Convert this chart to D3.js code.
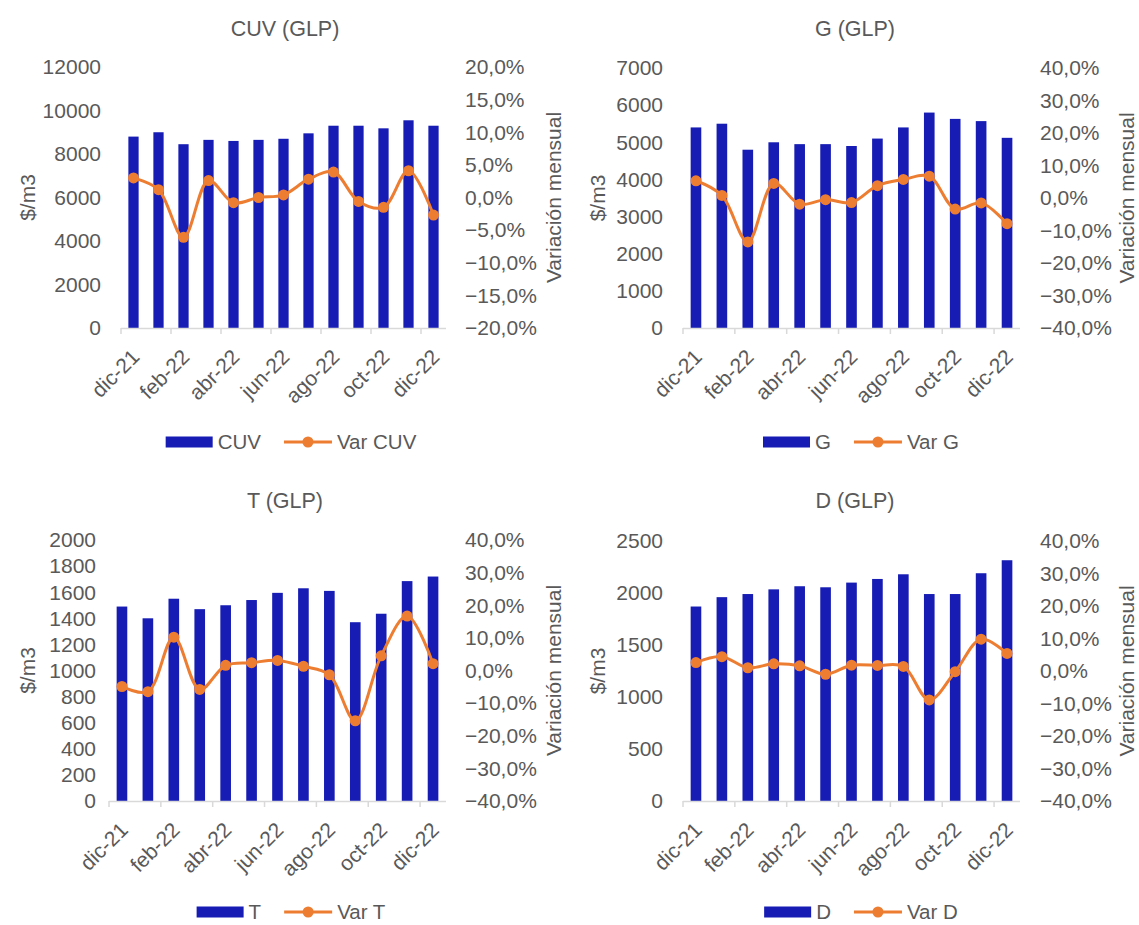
<!DOCTYPE html>
<html>
<head>
<meta charset="utf-8">
<script src="https://cdn.jsdelivr.net/npm/d3@7"></script>
<style>
  body { margin: 0; background: #fff; }
  svg { display: block; font-family: "Liberation Sans", Arial, sans-serif; }
  text { fill: #595959; }
</style>
</head>
<body>
<svg width="1139" height="925"></svg>
<script>
// Data
const months = ["dic-21", "ene-22", "feb-22", "mar-22", "abr-22", "may-22", "jun-22",
  "jul-22", "ago-22", "sep-22", "oct-22", "nov-22", "dic-22"];

const cuv = [8800, 9000, 8450, 8650, 8600, 8650, 8700, 8950, 9300, 9300, 9180, 9550, 9300];
const varCuv = [3.0, 1.2, -6.1, 2.6, -0.8, 0.0, 0.4, 2.8, 3.9, -0.6, -1.5, 4.1, -2.7];

const g = [5400, 5500, 4800, 5000, 4950, 4950, 4900, 5100, 5400, 5800, 5630, 5570, 5120];
const varG = [5.3, 0.8, -13.5, 4.5, -1.9, -0.5, -1.4, 3.8, 5.7, 6.7, -3.4, -1.5, -7.9];

const t = [1490, 1400, 1550, 1470, 1500, 1540, 1595, 1630, 1610, 1370, 1435, 1685, 1720];
const varT = [-4.9, -6.5, 10.2, -5.8, 1.6, 2.4, 3.1, 1.3, -1.3, -15.4, 4.5, 16.7, 2.1];

const dist = [1870, 1960, 1990, 2035, 2065, 2055, 2100, 2135, 2180, 1990, 1990, 2190, 2315];
const varD = [2.6, 4.4, 1.0, 2.2, 1.6, -1.0, 1.8, 1.7, 1.4, -8.9, -0.2, 9.8, 5.4];

const BLUE = "#161cb4", ORANGE = "#ed7d31";
const FS = "21px";

const locale = d3.formatLocale({ decimal: ",", thousands: ".", grouping: [3], currency: ["$", ""] });
const pct = v => locale.format(".1f")(v) + "%";

const svg = d3.select("svg");

// panel layout
const panels = [
  { title: "CUV (GLP)", name: "CUV", bars: cuv, line: varCuv, cx: 285,
    x0: 121, x1: 446, yTop: 67, yBot: 328, lMax: 12000, lStep: 2000, rMax: 20, rStep: 5,
    lLab: 101, rLab: 465, lTitle: 28, rTitle: 554, titleY: 28, legY: 442 },
  { title: "G (GLP)", name: "G", bars: g, line: varG, cx: 855,
    x0: 683, x1: 1020, yTop: 68, yBot: 328, lMax: 7000, lStep: 1000, rMax: 40, rStep: 10,
    lLab: 663, rLab: 1040, lTitle: 598, rTitle: 1127, titleY: 28, legY: 442 },
  { title: "T (GLP)", name: "T", bars: t, line: varT, cx: 285,
    x0: 109, x1: 446, yTop: 540, yBot: 801, lMax: 2000, lStep: 200, rMax: 40, rStep: 10,
    lLab: 96, rLab: 465, lTitle: 28, rTitle: 554, titleY: 500, legY: 912 },
  { title: "D (GLP)", name: "D", bars: dist, line: varD, cx: 855,
    x0: 683, x1: 1020, yTop: 541, yBot: 801, lMax: 2500, lStep: 500, rMax: 40, rStep: 10,
    lLab: 663, rLab: 1040, lTitle: 598, rTitle: 1127, titleY: 500, legY: 912 }
];

panels.forEach(drawPanel);

function drawPanel(p) {
  const gp = svg.append("g");
  const x = d3.scaleBand().domain(months).range([p.x0, p.x1]).padding(0);
  const yL = d3.scaleLinear().domain([0, p.lMax]).range([p.yBot, p.yTop]);
  const yR = d3.scaleLinear().domain([-p.rMax, p.rMax]).range([p.yBot, p.yTop]);
  const bw = x.bandwidth() * 0.41;
  const cxOf = i => x(months[i]) + x.bandwidth() / 2;

  // title
  gp.append("text").attr("x", p.cx).attr("y", p.titleY).attr("dy", "0.35em")
    .attr("text-anchor", "middle").style("font-size", "21.5px").text(p.title);

  // left ticks
  gp.selectAll(".lt").data(d3.range(0, p.lMax + 1, p.lStep)).join("text")
    .attr("x", p.lLab).attr("y", d => yL(d)).attr("dy", "0.35em")
    .attr("text-anchor", "end").style("font-size", FS).text(d => d);

  // right ticks
  gp.selectAll(".rt").data(d3.range(-p.rMax, p.rMax + 0.001, p.rStep)).join("text")
    .attr("x", p.rLab).attr("y", d => yR(d)).attr("dy", "0.35em")
    .style("font-size", FS).text(d => pct(d));

  // axis titles
  const mid = (p.yTop + p.yBot) / 2;
  gp.append("text").attr("transform", `translate(${p.lTitle},${mid}) rotate(-90)`)
    .attr("dy", "0.35em").attr("text-anchor", "middle").style("font-size", FS).text("$/m3");
  gp.append("text").attr("transform", `translate(${p.rTitle},${mid}) rotate(-90)`)
    .attr("dy", "0.35em").attr("text-anchor", "middle").style("font-size", FS).text("Variación mensual");

  // bars
  gp.selectAll(".bar").data(p.bars).join("rect")
    .attr("x", (d, i) => cxOf(i) - bw / 2)
    .attr("y", d => yL(d)).attr("width", bw).attr("height", d => p.yBot - yL(d))
    .attr("fill", BLUE);

  // x axis
  gp.append("line").attr("x1", p.x0).attr("x2", p.x1).attr("y1", p.yBot + 0.5).attr("y2", p.yBot + 0.5)
    .attr("stroke", "#d9d9d9").attr("stroke-width", 1.5);
  const tickCats = months.filter((m, i) => i % 2 === 0);
  gp.selectAll(".tk").data(tickCats).join("line")
    .attr("x1", d => x(d)).attr("x2", d => x(d)).attr("y1", p.yBot).attr("y2", p.yBot + 6)
    .attr("stroke", "#d9d9d9").attr("stroke-width", 1.5);
  gp.selectAll(".xl").data(tickCats).join("text")
    .attr("transform", d => `translate(${x(d) + x.bandwidth() / 2 + 2},${p.yBot + 25}) rotate(-45)`)
    .attr("dy", "0.35em").attr("text-anchor", "end").style("font-size", FS).text(d => d);

  // line
  const line = d3.line().x((d, i) => cxOf(i)).y(d => yR(d))
    .curve(d3.curveCatmullRom.alpha(0.5));
  gp.append("path").datum(p.line).attr("d", line).attr("fill", "none")
    .attr("stroke", ORANGE).attr("stroke-width", 3);
  gp.selectAll(".pt").data(p.line).join("circle")
    .attr("cx", (d, i) => cxOf(i)).attr("cy", d => yR(d))
    .attr("r", 5.5).attr("fill", ORANGE);

  // legend
  const leg = gp.append("g");
  const l1 = leg.append("text").attr("y", p.legY).attr("dy", "0.35em").style("font-size", "20.5px").text(p.name);
  const l2 = leg.append("text").attr("y", p.legY).attr("dy", "0.35em").style("font-size", "20.5px").text("Var " + p.name);
  const w1 = l1.node().getComputedTextLength(), w2 = l2.node().getComputedTextLength();
  const total = 47 + 5 + w1 + 23 + 48 + 5 + w2;
  let lx = p.cx + 6 - total / 2;
  leg.append("rect").attr("x", lx).attr("y", p.legY - 5.5).attr("width", 47).attr("height", 11).attr("fill", BLUE);
  l1.attr("x", lx + 52);
  lx += 52 + w1 + 23;
  leg.append("line").attr("x1", lx).attr("x2", lx + 48).attr("y1", p.legY).attr("y2", p.legY)
    .attr("stroke", ORANGE).attr("stroke-width", 3);
  leg.append("circle").attr("cx", lx + 24).attr("cy", p.legY).attr("r", 5.5).attr("fill", ORANGE);
  l2.attr("x", lx + 53);
}
</script>
</body>
</html>
